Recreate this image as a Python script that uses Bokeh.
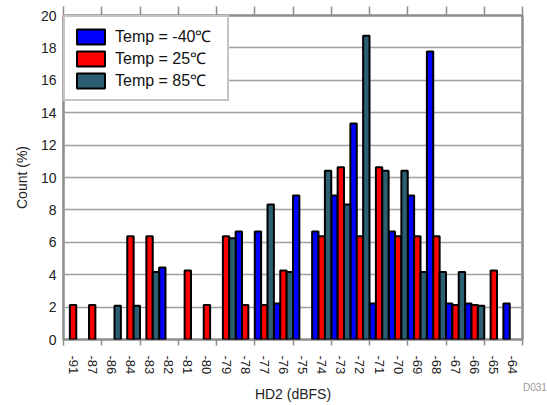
import numpy as np
from bokeh.plotting import figure
from bokeh.layouts import column
from bokeh.models import (ColumnDataSource, Range1d, LinearAxis, FixedTicker,
                          Legend, LegendItem, Div, CustomJSTickFormatter)
from bokeh.embed import file_html
from bokeh.resources import INLINE

categories = ["-91", "-87", "-86", "-84", "-83", "-82", "-81", "-80", "-79", "-78", "-77", "-76",
              "-75", "-74", "-73", "-72", "-71", "-70", "-69", "-68", "-67", "-66", "-65", "-64"]
temp_m40 = [0, 0, 0, 0, 0, 4.44, 0, 0, 0, 6.67, 6.67, 2.22,
            8.89, 6.67, 8.89, 13.33, 2.22, 6.67, 8.89, 17.78, 2.22, 2.22, 0, 2.22]
temp_25 = [2.13, 2.13, 0, 6.38, 6.38, 0, 4.26, 2.13, 6.38, 2.13, 2.13, 4.26,
           0, 6.38, 10.64, 6.38, 10.64, 6.38, 6.38, 6.38, 2.13, 2.13, 4.26, 0]
temp_85 = [0, 0, 2.08, 2.08, 4.17, 0, 0, 0, 6.25, 0, 8.33, 4.17,
           0, 10.42, 8.33, 18.75, 10.42, 10.42, 4.17, 4.17, 4.17, 2.08, 0, 0]
series_names = ["Temp = -40\u2103", "Temp = 25\u2103", "Temp = 85\u2103"]
series_colors = ["#0000FF", "#FF0000", "#2C5F74"]
y_ticks = list(range(0, 21, 2))
figure_id = "D031"

FONT = "Liberation Sans"
GRAY = "#8c8c8c"
n = len(categories)
centers = np.arange(n) + 0.5
boundaries = list(range(0, n + 1, 2))

p = figure(width=547, height=405, x_range=Range1d(0, n), y_range=Range1d(0, 20),
           output_backend="svg", toolbar_location=None, x_axis_location=None,
           min_border_left=63, min_border_right=25, min_border_top=15, min_border_bottom=0)

p.outline_line_color = GRAY
p.outline_line_width = 2.5
p.xgrid.visible = False
p.ygrid.grid_line_color = "#a0a0a0"
p.ygrid.grid_line_width = 1.5
p.ygrid.ticker = FixedTicker(ticks=y_ticks)

yax = p.yaxis[0]
yax.ticker = FixedTicker(ticks=y_ticks)
yax.major_tick_out = 0
yax.major_tick_in = 0
yax.minor_tick_out = 0
yax.minor_tick_in = 0
yax.axis_line_color = None
yax.major_label_standoff = 7
yax.major_label_text_font = FONT
yax.major_label_text_font_size = "14px"
yax.major_label_text_color = "#222222"
yax.axis_label = "Count (%)"
yax.axis_label_text_font = FONT
yax.axis_label_text_font_size = "14px"
yax.axis_label_text_font_style = "normal"
yax.axis_label_text_color = "#222222"
yax.axis_label_standoff = 8

# bottom axis: labels at category centres, tick marks every two categories
bottom = LinearAxis(ticker=FixedTicker(ticks=list(centers), minor_ticks=boundaries),
                    formatter=CustomJSTickFormatter(args=dict(labels=categories),
                                                    code="const i = Math.floor(tick); return (i >= 0 && i < labels.length) ? labels[i] : '';"))
bottom.major_tick_out = 0
bottom.major_tick_in = 0
bottom.minor_tick_out = 6
bottom.minor_tick_in = 0
bottom.minor_tick_line_color = GRAY
bottom.minor_tick_line_width = 1.5
bottom.axis_line_color = None
bottom.major_label_orientation = "vertical"
bottom.major_label_standoff = 10
bottom.major_label_text_font = FONT
bottom.major_label_text_font_size = "13px"
bottom.major_label_text_color = "#222222"
bottom.axis_label = "HD2 (dBFS)"
bottom.axis_label_text_font = FONT
bottom.axis_label_text_font_size = "14px"
bottom.axis_label_text_font_style = "normal"
bottom.axis_label_text_color = "#222222"
bottom.axis_label_standoff = 9
p.add_layout(bottom, "below")

# top axis: tick marks only (labels transparent)
top = LinearAxis(ticker=FixedTicker(ticks=boundaries))
top.major_tick_out = 9
top.major_tick_in = 0
top.minor_tick_out = 0
top.minor_tick_in = 0
top.major_tick_line_color = GRAY
top.major_tick_line_width = 1.5
top.axis_line_color = None
top.major_label_text_font_size = "4px"
top.major_label_text_alpha = 0
top.major_label_standoff = 0
p.add_layout(top, "above")

offsets = [-1 / 3, 0, 1 / 3]
renderers = []
for vals, col, off in zip([temp_m40, temp_25, temp_85], series_colors, offsets):
    v = np.array(vals, dtype=float)
    keep = v > 0
    src = ColumnDataSource(data=dict(x=centers[keep] + off, top=v[keep]))
    r = p.vbar(x="x", top="top", width=1 / 3, source=src,
               fill_color=col, line_color="black", line_width=2)
    renderers.append(r)

legend = Legend(items=[LegendItem(label=nm, renderers=[r]) for nm, r in zip(series_names, renderers)],
                location="top_left", margin=0, padding=8, spacing=0,
                glyph_width=35, glyph_height=19, label_standoff=7, label_width=104,
                label_text_font=FONT, label_text_font_size="16px", label_text_color="#111111",
                border_line_color=GRAY, border_line_width=2.5,
                background_fill_color="white", background_fill_alpha=1)
p.add_layout(legend, "center")

tag = Div(text=figure_id, styles={"position": "absolute", "left": "518px", "top": "376px",
                                  "color": "#999999", "font-size": "10px",
                                  "font-family": "Liberation Sans", "z-index": "10"})

layout = column(p, tag)
open("out.html", "w").write(file_html(layout, INLINE))
